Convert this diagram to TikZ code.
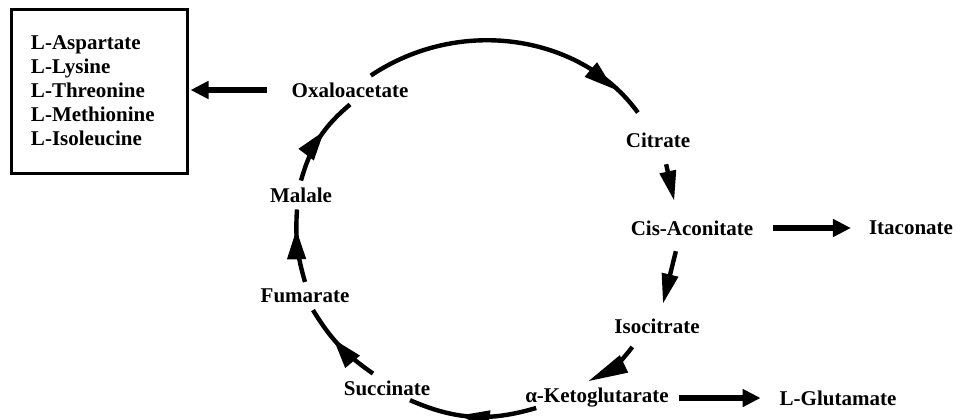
\documentclass[tikz,border=0pt]{standalone}
\usepackage{fontspec}
\setmainfont{Liberation Serif}
\usepackage{tikz}
\usetikzlibrary{arrows.meta,decorations.markings}
\tikzset{
	cyc/.style={line width=2.2pt},
	midtip/.style={postaction={decorate, decoration={markings, mark=at position #1 with {\arrow{Triangle[length=15pt,width=9pt]}}}}},
	endtip/.style={-{Triangle[length=15pt,width=8pt]}},
	fat/.style={line width=3pt, -{Triangle[length=9pt,width=8.5pt]}}
}

\begin{document}
\begin{tikzpicture}[x=0.5pt, y=-0.5pt, font=\fontsize{10.5}{12}\selectfont\bfseries]
	\useasboundingbox (0,0) rectangle (957,419);
	\node[draw, line width=1.5pt, align=left, text width=68pt, inner xsep=10pt, minimum height=82pt] (box) at (99,91)
		{L-Aspartate\\L-Lysine\\L-Threonine\\L-Methionine\\L-Isoleucine};
	\node (oxal) at (350,90) {Oxaloacetate};
	\node (cit) at (658,140) {Citrate};
	\node (cis) at (692,228) {Cis-Aconitate};
	\node (ita) at (911,228) {Itaconate};
	\node (iso) at (657,326) {Isocitrate};
	\node (akg) at (597,398) {α-Ketoglutarate};
	\node (glut) at (838,398) {L-Glutamate};
	\node (suc) at (387,388) {Succinate};
	\node (fum) at (305,296) {Fumarate};
	\node (mal) at (301,195) {Malale};
	\path[cyc]
	(oxal) edge[bend left=44, shorten >=8pt, midtip=0.84] (cit)
	([xshift=3pt]cit.south) edge[endtip, shorten <=5pt, shorten >=6.5pt] ([xshift=-7.5pt]cis.north)
	([xshift=-7pt]cis.south) edge[endtip, shorten <=4.5pt, shorten >=4pt] ([xshift=2pt]iso.north)
	([xshift=-10pt]iso.south) edge[bend left=14, -{Triangle[length=20pt,width=9pt]}, shorten <=4pt] ([xshift=-4.5pt]akg.north)
	([shift={(9pt,-2.5pt)}]akg.base west) edge[bend left=20, midtip=0.6] ([shift={(11.5pt,-2.5pt)}]suc.base)
	([xshift=-7pt]suc.north) edge[bend left=12, midtip=0.6] ([xshift=4pt]fum.south)
	(fum.north) edge[bend left=10, midtip=0.73] ([xshift=-2pt]mal.south)
	(mal.north) edge[bend left=17, midtip=0.6] (oxal.south);
	\path
	(oxal.west) edge[fat, shorten <=9pt, shorten >=1pt] (oxal.west -| box.east)
	(cis.east) edge[fat, shorten <=6.5pt, shorten >=5.5pt] (cis.east -| ita.west)
	(akg.east) edge[fat, shorten <=1.5pt, shorten >=6pt] (akg.east -| glut.west);
\end{tikzpicture}
\end{document}
